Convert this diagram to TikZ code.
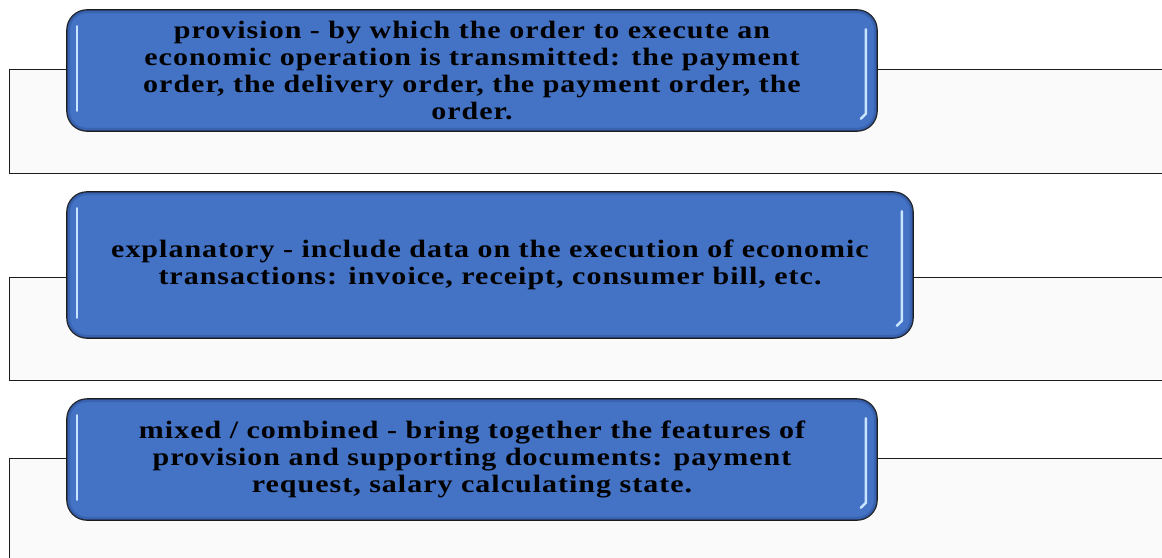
\documentclass[tikz,border=0pt]{standalone}
\usepackage{fontspec}
\setmainfont{Liberation Serif}[FakeStretch=1.2,LetterSpace=4]
\usetikzlibrary{positioning}
\definecolor{AzulDoc}{RGB}{68,114,196}
\definecolor{AzulSombra}{RGB}{50,90,165}
\definecolor{BordeOscuro}{RGB}{28,28,28}
\definecolor{GrisPanel}{RGB}{250,250,250}
\definecolor{BrilloAzul}{RGB}{200,228,255}

\begin{document}
\begin{tikzpicture}[x=1pt, y=-1pt, font=\bfseries\fontsize{25}{27}\selectfont,
    panel/.style={draw=BordeOscuro, fill=GrisPanel, line width=1.3pt, anchor=north west, inner sep=0pt},
    doc/.style={draw=BordeOscuro, fill=AzulDoc, line width=1.6pt, rounded corners=20pt, align=center, inner sep=0pt},
    brillo/.style={BrilloAzul, line width=2.5pt, line cap=round}]
  \useasboundingbox (0,0) rectangle (1162,557);
  \clip (0,0) rectangle (1162,557);

  % grey panels behind the documents
  \node[panel, minimum width=1200pt, minimum height=104pt] (panel1) at (9,69) {};
  \node[panel, minimum width=1200pt, minimum height=103pt] (panel2) at (9,277) {};
  \node[panel, minimum width=1200pt, minimum height=140pt] (panel3) at (9,458) {};

  % document types
  \node[doc, minimum width=810pt, minimum height=121pt] (provision) at (472,70.5)
    {provision - by which the order to execute an\\
     economic operation is transmitted: the payment\\
     order, the delivery order, the payment order, the\\
     order.};
  \node[doc, minimum width=846pt, minimum height=146pt] (explanatory) at (490,265)
    {explanatory - include data on the execution of economic\\
     transactions: invoice, receipt, consumer bill, etc.};
  \node[doc, minimum width=810pt, minimum height=121pt] (mixed) at (472,459.5)
    {mixed / combined - bring together the features of\\
     provision and supporting documents: payment\\
     request, salary calculating state.};

  % bevel shade and glossy edges
  \foreach \caja in {provision, explanatory, mixed} {
    \draw[AzulSombra, line width=3pt, opacity=.6, rounded corners=18pt]
      ([shift={(2.5pt,2.5pt)}]\caja.south west) rectangle ([shift={(-2.5pt,-2.5pt)}]\caja.north east);
    \draw[brillo] ([xshift=11pt,yshift=-17pt]\caja.north west) -- ([xshift=11pt,yshift=21pt]\caja.south west);
    \draw[brillo] ([xshift=-12pt,yshift=-20pt]\caja.north east) -- ([xshift=-12pt,yshift=18pt]\caja.south east)
      -- ([xshift=-17pt,yshift=13pt]\caja.south east);
  }
\end{tikzpicture}
\end{document}
